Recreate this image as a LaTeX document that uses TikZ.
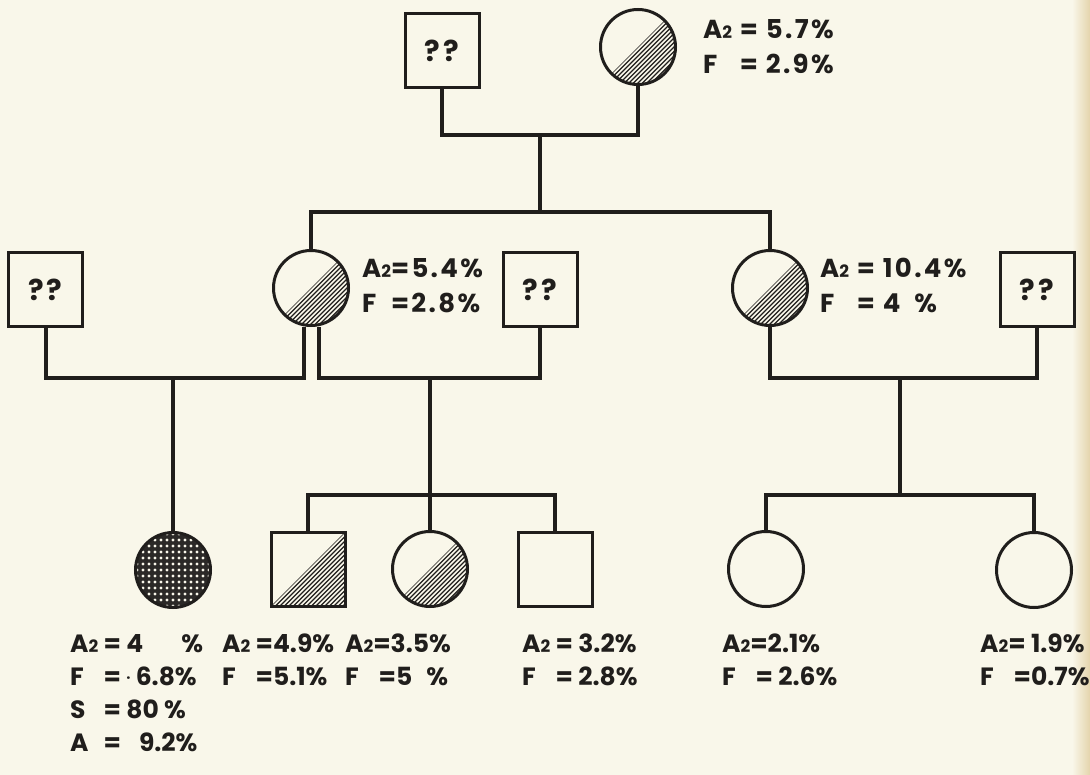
\documentclass[tikz,border=0pt]{standalone}
\usepackage{calc}
\usepackage{fontspec}
\setmainfont{Poppins}
\newfontfamily\spaced{Poppins}[LetterSpace=9]
\usetikzlibrary{calc}

\definecolor{paper}{RGB}{249,247,234}
\definecolor{edge}{RGB}{228,212,172}
\definecolor{ink}{RGB}{32,30,28}

% label fonts: wide lettering beside the parents, plain lettering under the children
\newcommand\biglbl{\spaced\bfseries\fontsize{26}{30}\selectfont}
\newcommand\lbl{\bfseries\fontsize{25}{30}\selectfont}
\newcommand\Atwo{A{\fontsize{17}{17}\selectfont 2}}
\newcommand\pad[1]{\makebox[\widthof{\Atwo}][l]{#1}}

\tikzset{
  person/.style={draw=ink, line width=3pt, fill=paper, inner sep=0pt, text=ink,
                 font=\bfseries\fontsize{29}{30}\selectfont},
  male/.style={person, rectangle, minimum size=74pt},
  female/.style={person, circle, minimum size=75pt},
  halfhatch/.style={path picture={
    \begin{scope}
      \clip (path picture bounding box.south west) -- (path picture bounding box.north east)
            -- (path picture bounding box.south east) -- cycle;
      \foreach \k in {0,4.5,...,92}
        \draw[ink, line width=1.3pt] ($(path picture bounding box.south west)+(\k pt,0pt)$) -- ++(100pt,100pt);
    \end{scope}}},
  stipple/.style={path picture={
    \fill[ink!95] (path picture bounding box.south west) rectangle (path picture bounding box.north east);
    \foreach \i in {0,...,13}
      \foreach \j in {0,...,13}
        \fill[paper] ($(path picture bounding box.south west)+(\i*6pt+1.5pt,\j*6pt+1.5pt)$) circle (1.6pt);}},
  conn/.style={draw=ink, line width=4pt, line join=miter},
  lab/.style={anchor=base west, inner sep=0pt, text=ink, font=\lbl},
  biglab/.style={lab, font=\biglbl},
}

\begin{document}
\begin{tikzpicture}[x=1pt, y=-1pt]
  % page
  \fill[paper] (0,0) rectangle (1090,775);
  \shade[left color=paper, right color=edge] (1072,0) rectangle (1090,775);
  \useasboundingbox (0,0) rectangle (1090,775);

  % levels of the connecting lines
  \coordinate (y1) at (0,135);
  \coordinate (y2) at (0,212);
  \coordinate (y3) at (0,378);
  \coordinate (y4) at (0,495);

  % first generation
  \node[male] (s1) at (442,51) {?\hspace{3pt}?};
  \node[female, halfhatch] (c1) at (638,47) {};
  \node[biglab] (t1a) at (703,39) {\Atwo{} = 5.7\%};
  \node[biglab] (t1b) at (703,74) {\pad{F} = 2.9\%};

  % second generation
  \node[male] (s2l) at (45.5,290) {?\hspace{3pt}?};
  \node[female, halfhatch] (c2l) at (311,288) {};
  \node[male] (s2m) at (540,290) {?\hspace{3pt}?};
  \node[female, halfhatch] (c2r) at (770,288) {};
  \node[male] (s2r) at (1037,290) {?\hspace{3pt}?};
  \node[biglab] (t2a) at (362,278) {\Atwo{}=5.4\%};
  \node[biglab] (t2b) at (362,313) {\pad{F}=2.8\%};
  \node[biglab] (t2c) at (820,278) {\Atwo{} = 10.4\%};
  \node[biglab] (t2d) at (820,313) {\pad{F} = 4\hspace{14pt}\%};

  % third generation
  \node[female, stipple] (k1) at (173,570) {};
  \node[male, halfhatch] (k2) at (308,569) {};
  \node[female, halfhatch] (k3) at (430,569) {};
  \node[male] (k4) at (555,569) {};
  \node[female] (k5) at (766,569) {};
  \node[female] (k6) at (1034,570) {};

  \node[lab] (a1) at (70,652) {\Atwo{} = 4\hspace{38pt}\%};
  \node[lab] (f1) at (70,685) {\pad{F} = {\fontsize{14}{14}\selectfont\raisebox{3pt}{·}} 6.8\%};
  \node[lab] (s1v) at (70,718) {\pad{S} = 80 \%};
  \node[lab] (h1) at (70,751) {\pad{A} =\hspace{18pt}9.2\%};
  \node[lab] (a2) at (222,652) {\Atwo{} =4.9\%};
  \node[lab] (f2) at (222,685) {\pad{F} =5.1\%};
  \node[lab] (a3) at (345,652) {\Atwo{}=3.5\%};
  \node[lab] (f3) at (345,685) {\pad{F} =5\hspace{14pt}\%};
  \node[lab] (a4) at (522,652) {\Atwo{} = 3.2\%};
  \node[lab] (f4) at (522,685) {\pad{F} = 2.8\%};
  \node[lab] (a5) at (722,652) {\Atwo{}=2.1\%};
  \node[lab] (f5) at (722,685) {\pad{F} = 2.6\%};
  \node[lab] (a6) at (980,652) {\Atwo{}= 1.9\%};
  \node[lab] (f6) at (980,685) {\pad{F} =0.7\%};

  % marriage and descent lines
  \coordinate (m1) at ($(s1.south |- y1)!0.5!(c1.south |- y1)$);
  \draw[conn] (s1.south) -- (s1.south |- y1) -- (c1.south |- y1) -- (c1.south);
  \draw[conn] (m1) -- (m1 |- y2);
  \draw[conn] (c2l.north) -- (c2l.north |- y2) -- (c2r.north |- y2) -- (c2r.north);

  \coordinate (c2la) at ($(c2l.south)+(-7pt,0pt)$);
  \coordinate (c2lb) at ($(c2l.south)+(8pt,0pt)$);
  \draw[conn] (s2l.south) -- (s2l.south |- y3) -- (c2la |- y3) -- (c2la);
  \draw[conn] (c2lb) -- (c2lb |- y3) -- (s2m.south |- y3) -- (s2m.south);
  \draw[conn] (c2r.south) -- (c2r.south |- y3) -- (s2r.south |- y3) -- (s2r.south);

  \draw[conn] (k1.north) -- (k1.north |- y3);
  \draw[conn] (k2.north) -- (k2.north |- y4) -- (k4.north |- y4) -- (k4.north);
  \draw[conn] (k3.north) -- (k3.north |- y3);
  \coordinate (r4) at ($(k5.north |- y4)!0.5!(k6.north |- y4)$);
  \draw[conn] (k5.north) -- (k5.north |- y4) -- (k6.north |- y4) -- (k6.north);
  \draw[conn] (r4) -- (r4 |- y3);
\end{tikzpicture}
\end{document}
